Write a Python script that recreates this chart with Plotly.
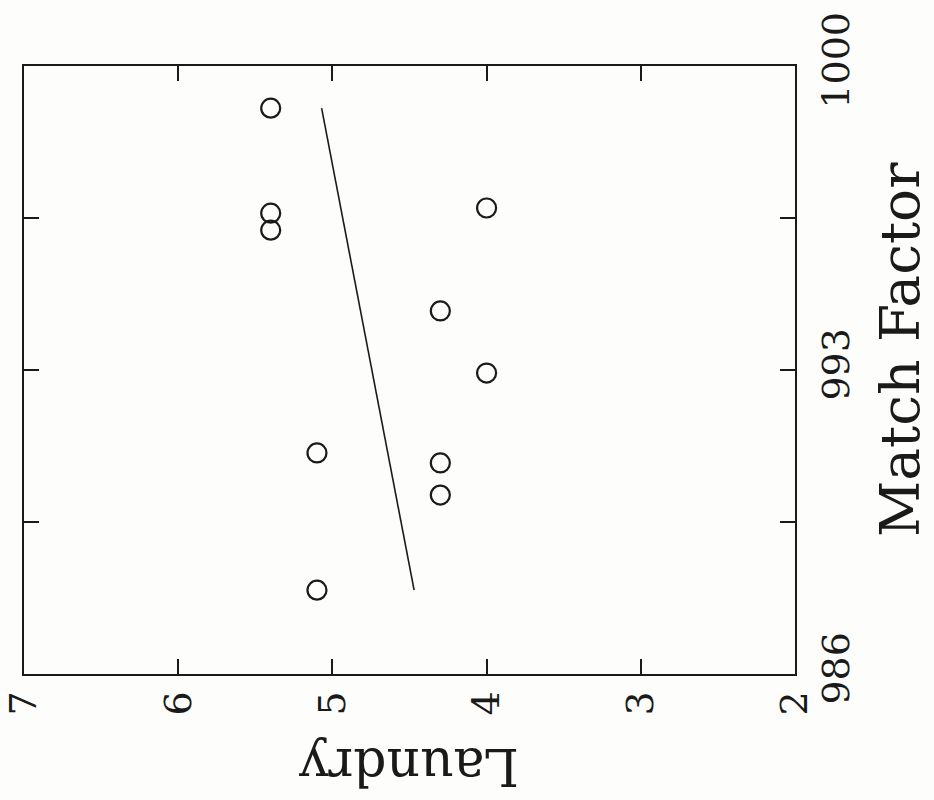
import plotly.graph_objects as go

# Observations: laundry score vs. spectral match factor
laundry = [5.4, 5.4, 5.4, 4.0, 4.3, 4.0, 5.1, 4.3, 4.3, 5.1]
match_factor = [999.03, 996.61, 996.22, 996.73, 994.36, 992.93, 991.09, 990.86, 990.12, 987.93]

# Fitted trend line end points
fit_match = [987.93, 999.03]
fit_laundry = [4.47, 5.07]

laundry_ticks = [7, 6, 5, 4, 3, 2]
match_ticks = [986, 989.5, 993, 996.5, 1000]
match_ticktext = ["986", "", "993", "", "1000"]

FONT = "DejaVu Serif"
INK = "#1a1a1a"

W, H = 934, 800
ML, MR, MT, MB = 24, 139, 66, 126

fig = go.Figure()
fig.add_trace(go.Scatter(
    x=fit_laundry, y=fit_match, mode="lines",
    line=dict(color=INK, width=1.6), hoverinfo="skip", showlegend=False,
))
fig.add_trace(go.Scatter(
    x=laundry, y=match_factor, mode="markers",
    marker=dict(symbol="circle-open", size=19, color=INK, line=dict(width=2.2, color=INK)),
    showlegend=False,
))

axis_common = dict(
    ticks="inside", ticklen=15, tickwidth=1.5, tickcolor=INK,
    showline=True, linecolor=INK, linewidth=2, mirror="ticks",
    showgrid=False, zeroline=False, automargin=False,
    tickfont=dict(size=38, family=FONT, color=INK), tickangle=-90,
)

fig.update_layout(
    width=W, height=H,
    margin=dict(l=ML, r=MR, t=MT, b=MB, autoexpand=False),
    paper_bgcolor="#fdfdfb", plot_bgcolor="#fdfdfb",
    font=dict(family=FONT, color=INK),
    xaxis=dict(
        range=[7, 2], tickvals=laundry_ticks, ticktext=[str(v) for v in laundry_ticks],
        ticklabelstandoff=0, **axis_common,
    ),
    yaxis=dict(
        range=[986, 1000], side="right", tickvals=match_ticks, ticktext=match_ticktext,
        ticklabelstandoff=6, **axis_common,
    ),
)

# axis titles, positioned in pixels relative to the plotting area
pw, ph = W - ML - MR, H - MT - MB


def paper_xy(px, py):
    return (px - ML) / pw, (H - MB - py) / ph


lx, ly = paper_xy(409, 767)
mx, my = paper_xy(900, 350)
fig.add_annotation(text="Laundry", x=lx, y=ly, xref="paper", yref="paper", showarrow=False,
                   textangle=180, font=dict(size=52, family=FONT, color=INK),
                   xanchor="center", yanchor="middle")
fig.add_annotation(text="Match Factor", x=mx, y=my, xref="paper", yref="paper", showarrow=False,
                   textangle=-90, font=dict(size=55, family=FONT, color=INK),
                   xanchor="center", yanchor="middle")

fig.write_html("out.html")
